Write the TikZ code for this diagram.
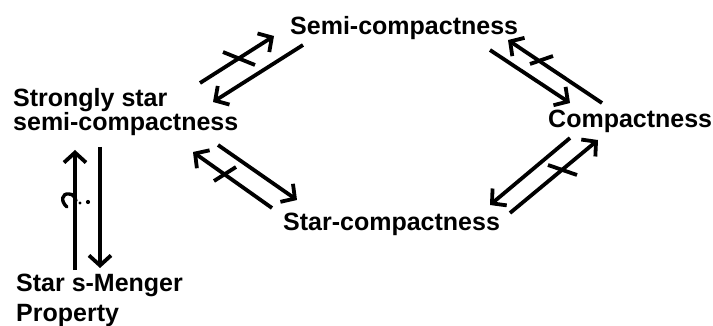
\documentclass[tikz,border=0pt]{standalone}
\usepackage{fontspec}
\setmainfont{Liberation Sans}
\usetikzlibrary{arrows.meta}
\begin{document}
\begin{tikzpicture}[x=1pt,y=-1pt,
  lbl/.style={anchor=base west,inner sep=0pt,align=left,font=\bfseries\fontsize{25}{22}\selectfont},
  arr/.style={line width=3.8pt,-{Straight Barb[length=10pt,width=22pt]}},
  tick/.style={line width=3.8pt}]
\useasboundingbox (0,0) rectangle (713,326);
\node[lbl] (semi) at (290,35) {Semi-compactness};
\node[lbl] (comp) at (548,128) {Compactness};
\node[lbl] (star) at (283,230) {Star-compactness};
\node[lbl] (sss) at (13,131) {Strongly star\\semi-compactness};
\node[lbl,font=\bfseries\fontsize{25}{30}\selectfont] (menger) at (16,321) {Star s-Menger\\Property};
% arrow endpoints
\coordinate (a1) at (200,83); \coordinate (a2) at (274,36);
\coordinate (b1) at (303,45); \coordinate (b2) at (213,102);
\coordinate (c1) at (490,50); \coordinate (c2) at (570,103);
\coordinate (d1) at (602,103); \coordinate (d2) at (508,40);
\coordinate (e1) at (272,208); \coordinate (e2) at (193,152);
\coordinate (f1) at (218,145); \coordinate (f2) at (297,200);
\coordinate (g1) at (570,138); \coordinate (g2) at (490,205);
\coordinate (h1) at (510,213); \coordinate (h2) at (598,140);
\coordinate (i1) at (75,270); \coordinate (i2) at (75,150);
\coordinate (j1) at (100,147); \coordinate (j2) at (100,268);
\draw[arr] (a1) -- (a2);
\draw[arr] (b1) -- (b2);
\draw[arr] (c1) -- (c2);
\draw[arr] (d1) -- (d2);
\draw[arr] (e1) -- (e2);
\draw[arr] (f1) -- (f2);
\draw[arr] (g1) -- (g2);
\draw[arr] (h1) -- (h2);
\draw[arr] (i1) -- (i2);
\draw[arr] (j1) -- (j2);
% crossing ticks
\coordinate (ta1) at (223,52); \coordinate (ta2) at (255,65);
\coordinate (td1) at (530,64); \coordinate (td2) at (553,56);
\coordinate (te1) at (214,181); \coordinate (te2) at (236,167);
\coordinate (th1) at (548,165); \coordinate (th2) at (577,175);
\draw[tick] (ta1) -- (ta2);
\draw[tick] (td1) -- (td2);
\draw[tick] (te1) -- (te2);
\draw[tick] (th1) -- (th2);
% hook mark on the upward arrow
\draw[line width=3.4pt,line cap=round] (67,207) .. controls (60,201) and (62,193) .. (69,194) .. controls (73,194) and (75,197) .. (76,201);
\fill (80,203) circle (1.7);
\fill (88,202) circle (2.1);
\end{tikzpicture}
\end{document}
